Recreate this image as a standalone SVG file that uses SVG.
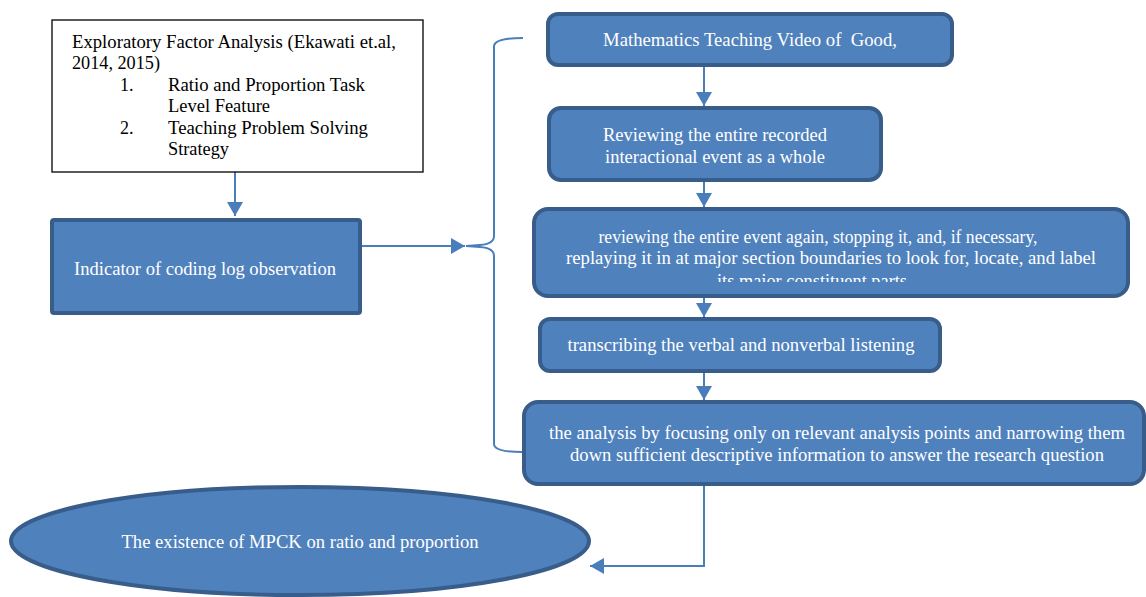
<svg xmlns="http://www.w3.org/2000/svg" width="1146" height="597" viewBox="0 0 1146 597">
<style>
.box{fill:#4f81bd;stroke:#385d8a;stroke-width:4}
.wt{font-family:'Liberation Serif','Times New Roman','DejaVu Serif',serif;font-size:19px;fill:#ffffff;text-anchor:middle}
.bt{font-family:'Liberation Serif','Times New Roman','DejaVu Serif',serif;font-size:18px;fill:#000000}
.con{fill:none;stroke:#4a7ebb;stroke-width:2}
</style>
<defs>
<marker id="ah" markerUnits="userSpaceOnUse" markerWidth="16" markerHeight="16" refX="14" refY="8" orient="auto">
<path d="M0,0 L14,8 L0,16 z" fill="#4a7ebb"/>
</marker>
<clipPath id="c3"><rect x="534" y="209" width="594" height="73"/></clipPath>
</defs>
<rect width="1146" height="597" fill="#ffffff"/>
<g id="connectors">
<line class="con" x1="235" y1="172" x2="235" y2="216" marker-end="url(#ah)"/>
<line class="con" x1="362" y1="246" x2="465" y2="246" marker-end="url(#ah)"/>
<path class="con" d="M523,38 Q495,38 494,46 L494,236 Q494,244 480,245 L466,246 L480,247 Q494,248 494,256 L494,444 Q494,452 522,452"/>
<line class="con" x1="704" y1="66" x2="704" y2="106" marker-end="url(#ah)"/>
<line class="con" x1="704" y1="182" x2="704" y2="207" marker-end="url(#ah)"/>
<line class="con" x1="704" y1="298" x2="704" y2="317" marker-end="url(#ah)"/>
<line class="con" x1="704" y1="373" x2="704" y2="400" marker-end="url(#ah)"/>
<path class="con" d="M704,486 L704,566 L590,566" marker-end="url(#ah)"/>
</g>
<g id="node-efa">
<rect x="52" y="20" width="371" height="152" fill="#ffffff" stroke="#000000" stroke-width="1.3"/>
<text class="bt" x="72" y="48" textLength="324" lengthAdjust="spacingAndGlyphs">Exploratory Factor Analysis (Ekawati et.al,</text>
<text class="bt" x="72" y="69" textLength="88" lengthAdjust="spacingAndGlyphs">2014, 2015)</text>
<text class="bt" x="120" y="91">1.</text>
<text class="bt" x="168" y="91" textLength="197" lengthAdjust="spacingAndGlyphs">Ratio and Proportion Task</text>
<text class="bt" x="168" y="112" textLength="102" lengthAdjust="spacingAndGlyphs">Level Feature</text>
<text class="bt" x="120" y="134">2.</text>
<text class="bt" x="168" y="134" textLength="200" lengthAdjust="spacingAndGlyphs">Teaching Problem Solving</text>
<text class="bt" x="168" y="155" textLength="61" lengthAdjust="spacingAndGlyphs">Strategy</text>
</g>
<g id="node-indicator">
<rect class="box" x="52" y="220" width="308" height="93" rx="2"/>
<text class="wt" x="205" y="275" textLength="262" lengthAdjust="spacingAndGlyphs">Indicator of coding log observation</text>
</g>
<g id="node-video">
<rect class="box" x="548" y="14" width="404" height="51" rx="10"/>
<text class="wt" x="750" y="46" textLength="294" lengthAdjust="spacingAndGlyphs" xml:space="preserve" style="white-space:pre">Mathematics Teaching Video of  Good,</text>
</g>
<g id="node-review1">
<rect class="box" x="549" y="108" width="332" height="72" rx="12"/>
<text class="wt" x="715" y="141" textLength="224" lengthAdjust="spacingAndGlyphs">Reviewing the entire recorded</text>
<text class="wt" x="715" y="163" textLength="220" lengthAdjust="spacingAndGlyphs">interactional event as a whole</text>
</g>
<g id="node-review2">
<rect class="box" x="534" y="209" width="594" height="87" rx="14"/>
<g clip-path="url(#c3)">
<text class="wt" x="818" y="243" textLength="439" lengthAdjust="spacingAndGlyphs">reviewing the entire event again, stopping it, and, if necessary,</text>
<text class="wt" x="831" y="264" textLength="530" lengthAdjust="spacingAndGlyphs">replaying it in at major section boundaries to look for, locate, and label</text>
<text class="wt" x="812" y="287" textLength="190" lengthAdjust="spacingAndGlyphs">its major constituent parts</text>
</g>
</g>
<g id="node-transcribe">
<rect class="box" x="540" y="319" width="400" height="52" rx="10"/>
<text class="wt" x="741" y="351" textLength="347" lengthAdjust="spacingAndGlyphs">transcribing the verbal and nonverbal listening</text>
</g>
<g id="node-analysis">
<rect class="box" x="524" y="402" width="620" height="82" rx="14"/>
<text class="wt" x="837" y="439" textLength="576" lengthAdjust="spacingAndGlyphs">the analysis by focusing only on relevant analysis points and narrowing them</text>
<text class="wt" x="837" y="461" textLength="534" lengthAdjust="spacingAndGlyphs">down sufficient descriptive information to answer the research question</text>
</g>
<g id="node-mpck">
<ellipse class="box" cx="300" cy="541" rx="289" ry="54"/>
<text class="wt" x="300" y="548" textLength="357" lengthAdjust="spacingAndGlyphs">The existence of MPCK on ratio and proportion</text>
</g>
</svg>
